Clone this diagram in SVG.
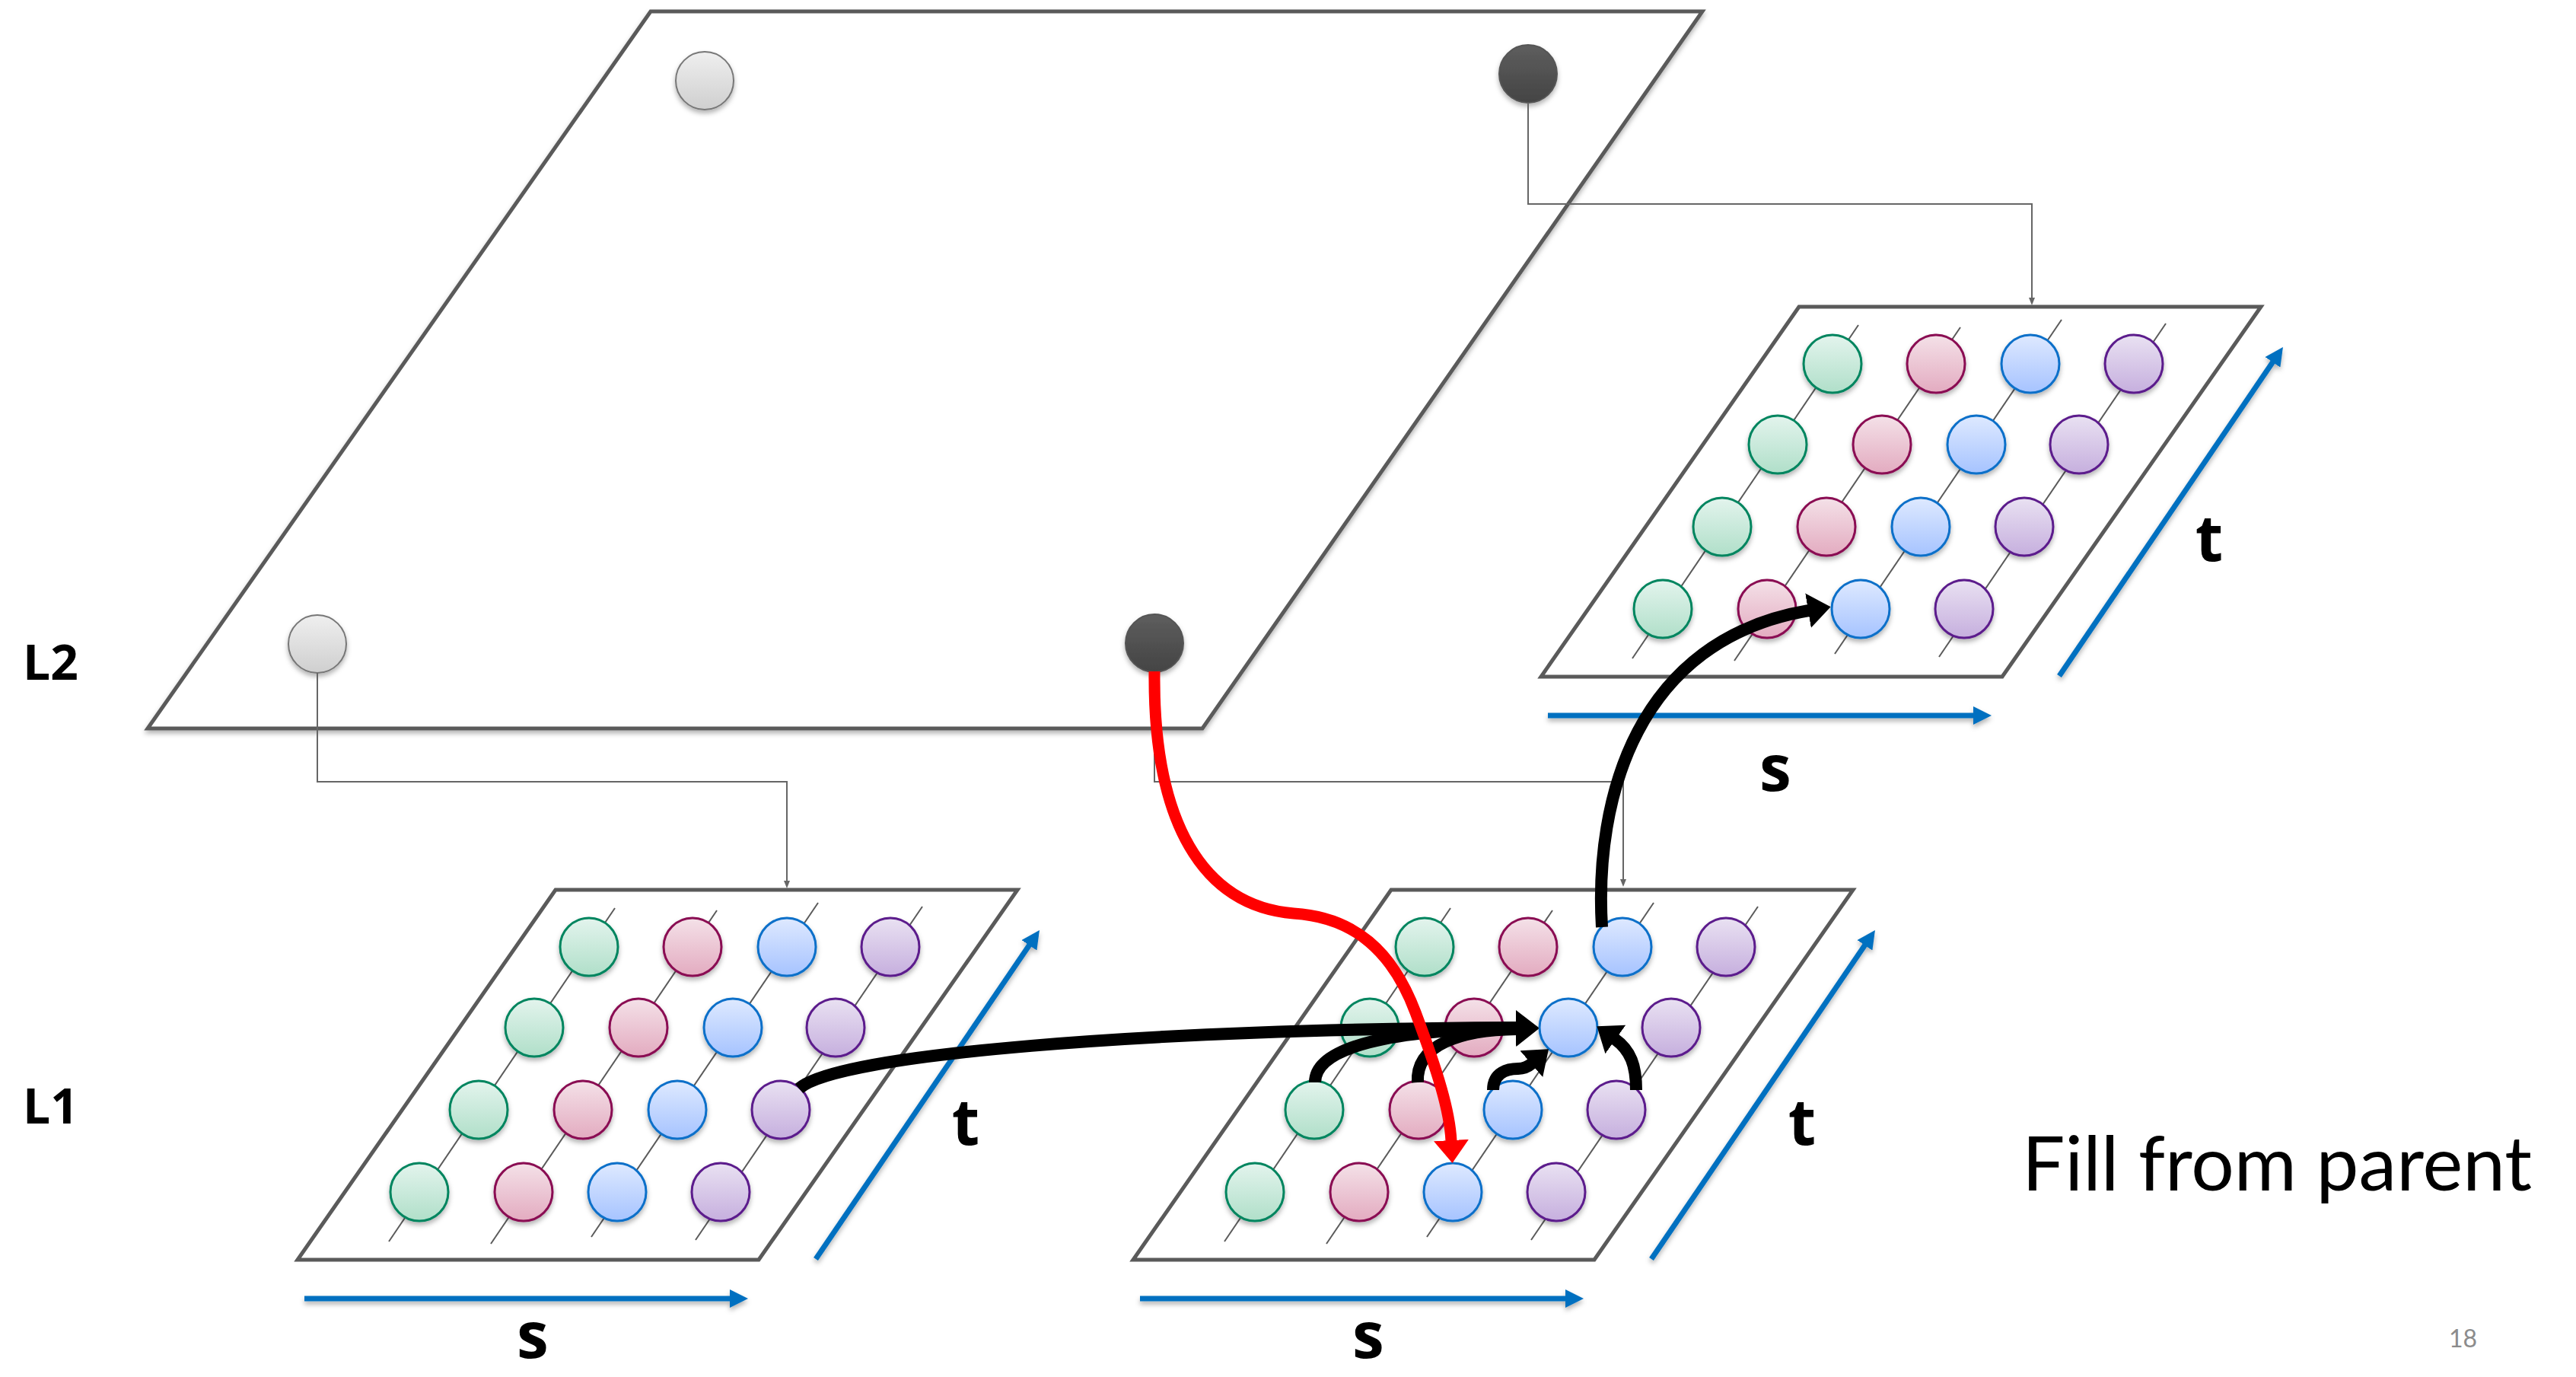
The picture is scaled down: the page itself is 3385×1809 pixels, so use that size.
<svg xmlns="http://www.w3.org/2000/svg" xmlns:xlink="http://www.w3.org/1999/xlink" width="3385" height="1809" viewBox="0 0 3385 1809">
<style>
.plate{fill:#ffffff;stroke:#5a5a5a;stroke-width:5;stroke-linejoin:miter}
.diag{stroke:#5a5a5a;stroke-width:2;fill:none}
.c{stroke-width:3}
.g{fill:url(#gG);stroke:#00855f}
.p{fill:url(#gP);stroke:#8a0b52}
.b{fill:url(#gB);stroke:#0a6fc9}
.v{fill:url(#gV);stroke:#5b1b8c}
.conn{fill:none;stroke:#666666;stroke-width:2}
.axis{fill:none;stroke:#0070c0;stroke-width:7}
.blk{fill:none;stroke:#000000;stroke-width:16}
.red{fill:none;stroke:#ff0000;stroke-width:15}
.lbl{font-family:"Open Sans","DejaVu Sans",sans-serif;font-weight:bold;fill:#000}
</style>
<defs>
<linearGradient id="gG" x1="0" y1="0" x2="0" y2="1"><stop offset="0" stop-color="#e3f4ed"/><stop offset="1" stop-color="#b0dfc9"/></linearGradient>
<linearGradient id="gP" x1="0" y1="0" x2="0" y2="1"><stop offset="0" stop-color="#f4e1e8"/><stop offset="1" stop-color="#e3abc0"/></linearGradient>
<linearGradient id="gB" x1="0" y1="0" x2="0" y2="1"><stop offset="0" stop-color="#dee9ff"/><stop offset="1" stop-color="#a6c3ff"/></linearGradient>
<linearGradient id="gV" x1="0" y1="0" x2="0" y2="1"><stop offset="0" stop-color="#e9e1f2"/><stop offset="1" stop-color="#c6afde"/></linearGradient>
<linearGradient id="gL" x1="0" y1="0" x2="0" y2="1"><stop offset="0" stop-color="#efefef"/><stop offset="1" stop-color="#cfcfcf"/></linearGradient>
<linearGradient id="gD" x1="0" y1="0" x2="0" y2="1"><stop offset="0" stop-color="#5e5e5e"/><stop offset="1" stop-color="#444444"/></linearGradient>
<filter id="sh" x="-30%" y="-30%" width="160%" height="170%"><feDropShadow dx="0" dy="4" stdDeviation="3" flood-color="#000" flood-opacity="0.3"/></filter>
<marker id="mBlk" markerUnits="userSpaceOnUse" viewBox="0 0 30 46" markerWidth="30" markerHeight="46" refX="1" refY="23" orient="auto"><path d="M0,0 L30,23 L0,46 z" fill="#000"/></marker>
<marker id="mRed" markerUnits="userSpaceOnUse" viewBox="0 0 30 46" markerWidth="30" markerHeight="46" refX="1" refY="23" orient="auto"><path d="M0,0 L30,23 L0,46 z" fill="#ff0000"/></marker>
<marker id="mBlue" markerUnits="userSpaceOnUse" viewBox="0 0 24 24" markerWidth="24" markerHeight="24" refX="1" refY="12" orient="auto"><path d="M0,0 L24,12 L0,24 z" fill="#0070c0"/></marker>
<marker id="mGray" markerUnits="userSpaceOnUse" viewBox="0 0 10 8" markerWidth="10" markerHeight="8" refX="1" refY="4" orient="auto"><path d="M0,0 L10,4 L0,8 z" fill="#666"/></marker>
<g id="plateTpl">
<polygon class="plate" points="730,1169 1337,1169 997,1655 391,1655"/>
<line class="diag" x1="808" y1="1193" x2="511" y2="1631"/>
<line class="diag" x1="942" y1="1196" x2="645" y2="1634"/>
<line class="diag" x1="1075" y1="1186" x2="777" y2="1625"/>
<line class="diag" x1="1212" y1="1191" x2="914" y2="1629"/>
<g filter="url(#sh)">
<circle class="c g" cx="774" cy="1244" r="38"/><circle class="c p" cx="910" cy="1244" r="38"/><circle class="c b" cx="1034" cy="1244" r="38"/><circle class="c v" cx="1170" cy="1244" r="38"/>
<circle class="c g" cx="702" cy="1350" r="38"/><circle class="c p" cx="839" cy="1350" r="38"/><circle class="c b" cx="963" cy="1350" r="38"/><circle class="c v" cx="1098" cy="1350" r="38"/>
<circle class="c g" cx="629" cy="1458" r="38"/><circle class="c p" cx="766" cy="1458" r="38"/><circle class="c b" cx="890" cy="1458" r="38"/><circle class="c v" cx="1026" cy="1458" r="38"/>
<circle class="c g" cx="551" cy="1566" r="38"/><circle class="c p" cx="688" cy="1566" r="38"/><circle class="c b" cx="811" cy="1566" r="38"/><circle class="c v" cx="947" cy="1566" r="38"/>
</g>
<g filter="url(#sh)">
<path class="axis" d="M400,1706 H960" marker-end="url(#mBlue)"/>
<path class="axis" d="M1072,1654 L1353,1241" marker-end="url(#mBlue)"/>
</g>
</g>
</defs>
<rect width="3385" height="1809" fill="#ffffff"/>
<g id="plane-L2">
<polygon class="plate" points="855,15 2237,15 1580,957 194,957" filter="url(#sh)"/>
<g filter="url(#sh)">
<circle cx="926" cy="106" r="38" fill="url(#gL)" stroke="#777" stroke-width="2"/>
<circle cx="2008" cy="97" r="38" fill="url(#gD)" stroke="#555" stroke-width="2"/>
<circle cx="417" cy="846" r="38" fill="url(#gL)" stroke="#777" stroke-width="2"/>
<circle cx="1517" cy="845" r="38" fill="url(#gD)" stroke="#555" stroke-width="2"/>
</g>
</g>
<g id="plate-L1-left"><use xlink:href="#plateTpl"/></g>
<g id="plate-L1-mid"><use xlink:href="#plateTpl" transform="translate(1098,0)"/></g>
<g id="plate-L1-right"><use xlink:href="#plateTpl" transform="translate(1634,-766)"/></g>
<g id="connectors">
<path class="conn" d="M417,884 V1027 H1034 V1158" marker-end="url(#mGray)"/>
<path class="conn" d="M1517,883 V1027 H2133 V1156" marker-end="url(#mGray)"/>
<path class="conn" d="M2008,135 V268 H2670 V392" marker-end="url(#mGray)"/>
<path class="blk" d="M1050,1430 C1100,1385 1500,1352 1993,1350" marker-end="url(#mBlk)"/>
<path class="blk" d="M1728,1422 C1728,1375 1830,1352 1993,1351" marker-end="url(#mBlk)"/>
<path class="blk" d="M1863,1422 C1860,1372 1920,1353 1993,1352" marker-end="url(#mBlk)"/>
<path class="blk" d="M1962,1432 C1962,1408 1982,1404 1995,1404 C2001,1404 2006,1403 2013,1397" marker-end="url(#mBlk)"/>
<path class="blk" d="M2150,1432 C2150,1400 2143,1380 2122,1365" marker-end="url(#mBlk)"/>
<path class="blk" d="M2105,1218 C2095,1050 2150,840 2377,802" marker-end="url(#mBlk)"/>
<path class="red" d="M1517,882 C1515,1080 1580,1190 1700,1200 C1780,1205 1830,1250 1860,1330 C1890,1410 1905,1460 1907,1499" marker-end="url(#mRed)"/>
</g>
<g id="labels">
<text class="lbl" x="30" y="893" font-size="64">L2</text>
<text class="lbl" x="30" y="1476" font-size="64">L1</text>
<text class="lbl" x="700" y="1784" font-size="84" text-anchor="middle">s</text>
<text class="lbl" x="1798" y="1784" font-size="84" text-anchor="middle">s</text>
<text class="lbl" x="2333" y="1039" font-size="84" text-anchor="middle">s</text>
<text class="lbl" x="1269" y="1504" font-size="84" text-anchor="middle">t</text>
<text class="lbl" x="2368" y="1504" font-size="84" text-anchor="middle">t</text>
<text class="lbl" x="2903" y="737" font-size="84" text-anchor="middle">t</text>
<text x="2657" y="1564" font-size="98" font-family="Lato,'Open Sans',sans-serif" textLength="670" lengthAdjust="spacingAndGlyphs" fill="#000">Fill from parent</text>
<text x="3218" y="1770" font-size="32" font-family="Lato,'Open Sans',sans-serif" fill="#8c8c8c">18</text>
</g>
</svg>
